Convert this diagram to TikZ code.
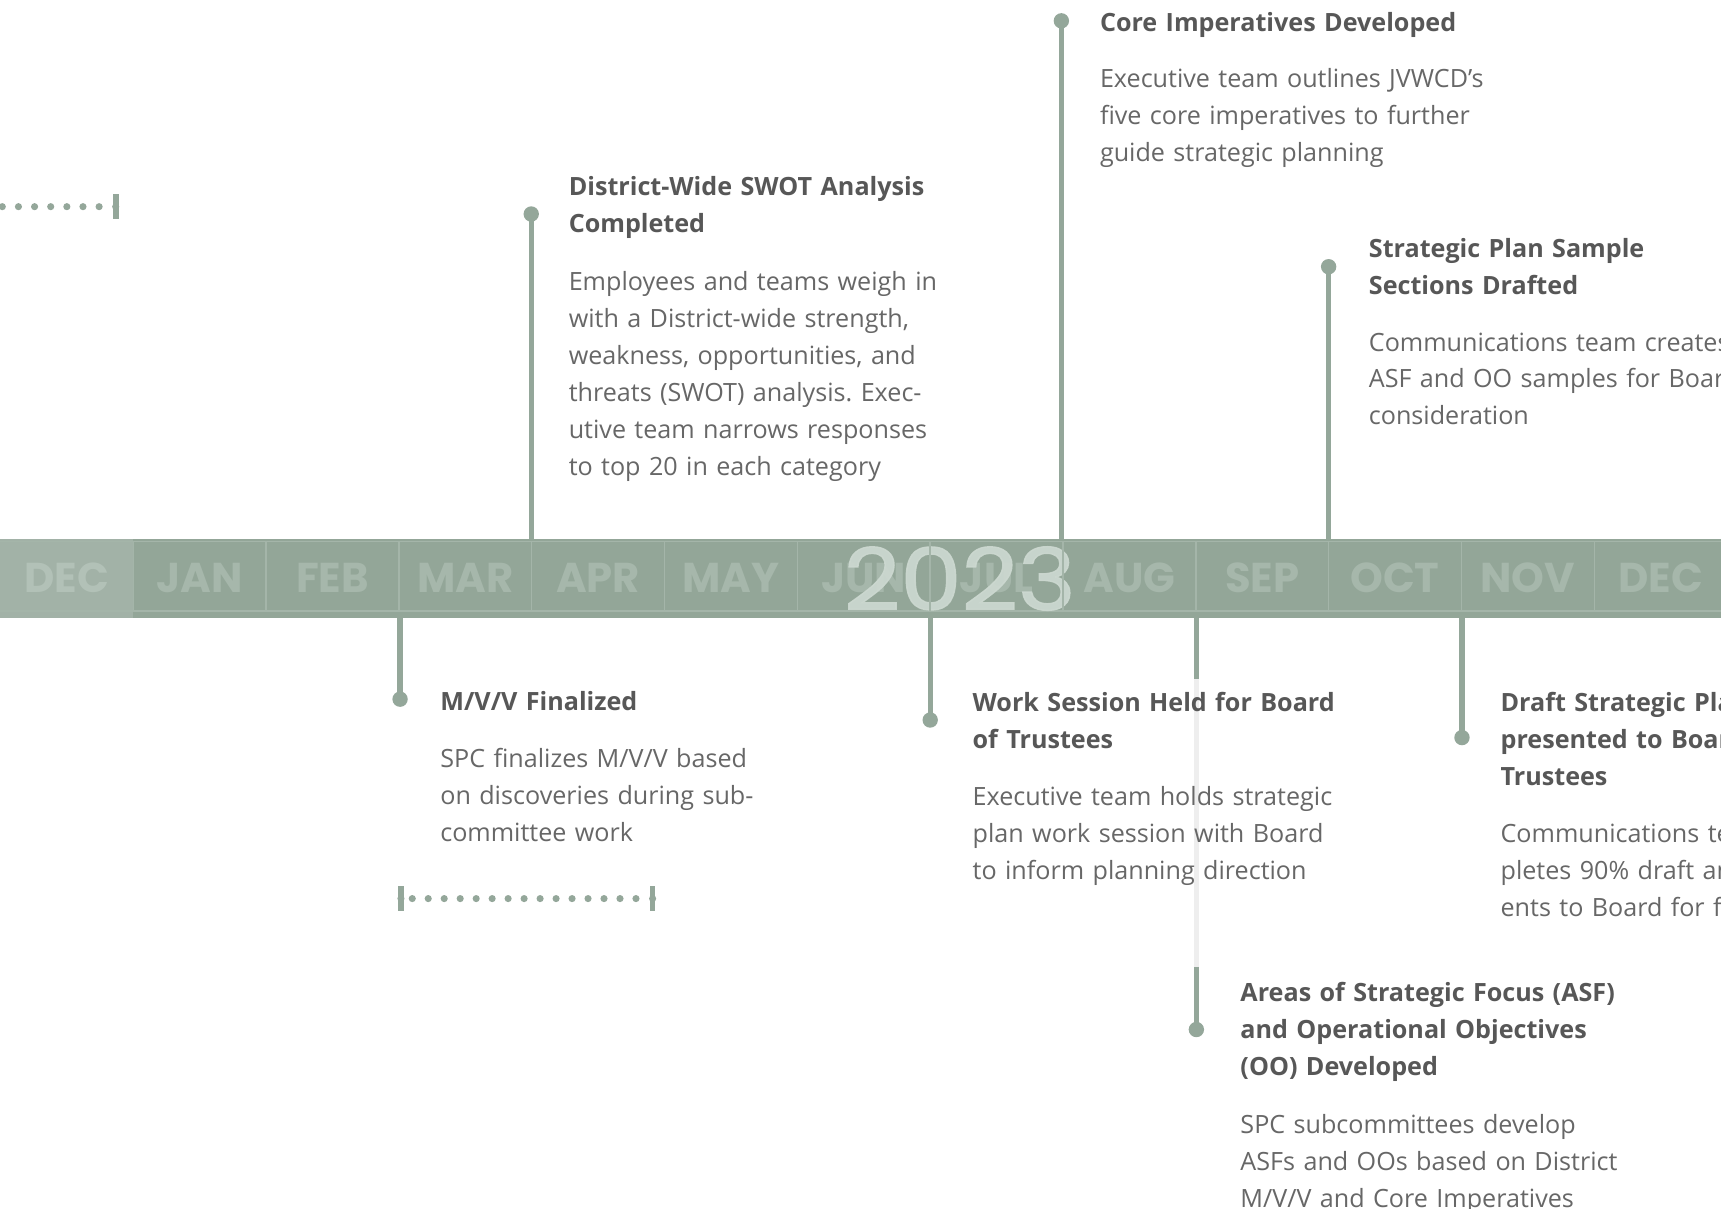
\documentclass[tikz,border=0pt]{standalone}
\usepackage{fontspec}
\usepackage{graphicx}
\setmainfont{Open Sans}
\newfontfamily\monthfont{Poppins}
\newfontfamily\yearfont{Poppins}[FakeBold=1.6]
\definecolor{bandc}{HTML}{93A698}
\definecolor{deccell}{HTML}{A2B2A7}
\definecolor{bandline}{HTML}{A4B5A9}
\definecolor{monthc}{HTML}{A6B7AB}
\definecolor{decmonthc}{HTML}{B2C1B7}
\definecolor{yearc}{HTML}{CCD8D0}
\definecolor{linec}{HTML}{94A79A}
\definecolor{fadec}{HTML}{EEEEEE}
\definecolor{titlec}{HTML}{575757}
\definecolor{bodyc}{HTML}{676767}
\tikzset{
  monthlbl/.style={font=\monthfont\bfseries\fontsize{38}{40}\selectfont, text=monthc, anchor=base, inner sep=0pt},
  yearlbl/.style={font=\yearfont\fontsize{85}{90}\selectfont, text=yearc, text opacity=0.93, anchor=base, inner sep=0pt},
  sepline/.style={draw=bandline, line width=1.3pt},
  conn/.style={draw=linec, line width=4.8pt},
  fadeconn/.style={draw=fadec, line width=4.8pt},
  evdot/.style={circle, fill=linec, minimum size=14pt, inner sep=0pt},
  ttl/.style={font=\fontsize{22.9}{33.7}\selectfont\bfseries, text=titlec, anchor=base west, inner sep=0pt, text width=700pt, align=left},
  bdy/.style={font=\fontsize{22.9}{33.7}\selectfont, text=bodyc, anchor=base west, inner sep=0pt, text width=700pt, align=left},
  smalldot/.style={circle, fill=linec, minimum size=6.5pt, inner sep=0pt},
  endbar/.style={rectangle, fill=linec, minimum width=5.2pt, minimum height=22.6pt, inner sep=0pt}
}
\frenchspacing
\begin{document}
\begin{tikzpicture}[x=1pt,y=-1pt]
\useasboundingbox (0,0) rectangle (1568,1101.5);
\fill[white] (0,0) rectangle (1568,1101.5);

% band
\fill[bandc] (0,491) rectangle (1568,563);
\fill[deccell] (0,491) rectangle (121.5,563);
\draw[sepline] (0,493.2) -- (1568,493.2);
\draw[sepline] (0,556.5) -- (1568,556.5);

% month labels
\foreach \m [count=\i from 0] in {DEC,JAN,FEB,MAR,APR,MAY,JUN,JUL,AUG,SEP,OCT,NOV,DEC}{
  \ifnum\i=0
    \node[monthlbl, text=decmonthc] (m\i) at (61+121*\i,540) {\m};
  \else
    \node[monthlbl] (m\i) at (61+121*\i,540) {\m};
  \fi
}
% year
\node[yearlbl] (yr) at (874.5,555.7) {\scalebox{1.05}[0.92]{2023}};
% separators
\foreach \k in {0,...,11}{
  \draw[sepline] (121.5+121*\k,493.2) -- (121.5+121*\k,556.5);
}

% connectors and dots
\node[evdot] (dA) at (967,19) {};
\node[evdot] (dB) at (484,195) {};
\node[evdot] (dC) at (1210.5,243) {};
\node[evdot] (dD) at (364.5,637) {};
\node[evdot] (dE) at (847.5,656) {};
\node[evdot] (dF) at (1332,672) {};
\node[evdot] (dG) at (1090,938) {};
\coordinate (bA) at (967,491);
\coordinate (bB) at (484,491);
\coordinate (bC) at (1210.5,491);
\coordinate (bD) at (364.5,563);
\coordinate (bE) at (847.5,563);
\coordinate (bF) at (1332,563);
\coordinate (bG) at (1090,563);
\coordinate (g1) at (1090,618.6);
\coordinate (g2) at (1090,881);
\draw[conn] (bA) -- (dA.center);
\draw[conn] (bB) -- (dB.center);
\draw[conn] (bC) -- (dC.center);
\draw[conn] (bD) -- (dD.center);
\draw[conn] (bE) -- (dE.center);
\draw[conn] (bF) -- (dF.center);
\draw[conn] (bG) -- (g1);
\draw[fadeconn] (g1) -- (g2);
\draw[conn] (g2) -- (dG.center);

% dotted ranges
\foreach \j in {0,...,6}{
  \node[smalldot] (ta\j) at (2.1+14.7*\j,188.3) {};
}
\node[endbar] (tbar) at (105.4,188.3) {};
\node[smalldot] (tbard) at (105.4,188.3) {};

\node[endbar] (lbar) at (365.3,818.7) {};
\node[endbar] (rbar) at (594.6,818.7) {};
\node[smalldot] (lbard) at (365.3,818.7) {};
\node[smalldot] (rbard) at (594.6,818.7) {};
\foreach \j in {0,...,14}{
  \node[smalldot] (bd\j) at (375.6+14.56*\j,818.7) {};
}

% texts
\node[ttl] (tA) at (1002,28.3) {Core Imperatives Developed};
\node[bdy] (xA) at (1002,79.3) {Executive team outlines JVWCD’s\\five core imperatives to further\\guide strategic planning};

\node[ttl] (tB) at (518,178.3) {District-Wide SWOT Analysis\\Completed};
\node[bdy] (xB) at (518,264.3) {Employees and teams weigh in\\with a District-wide strength,\\weakness, opportunities, and\\threats (SWOT) analysis. Exec-\\utive team narrows responses\\to top 20 in each category};

\node[ttl] (tC) at (1247,234.3) {Strategic Plan Sample\\Sections Drafted};
\node[bdy] (xC) at (1247,319.8) {Communications team creates\\ASF and OO samples for Board\\consideration};

\node[ttl] (tD) at (401,647.3) {M/V/V Finalized};
\node[bdy] (xD) at (401,699.3) {SPC finalizes M/V/V based\\on discoveries during sub-\\committee work};

\node[ttl] (tE) at (886,648.3) {Work Session Held for Board\\of Trustees};
\node[bdy] (xE) at (886,733.5) {Executive team holds strategic\\plan work session with Board\\to inform planning direction};

\node[ttl] (tF) at (1367,648.3) {Draft Strategic Plan\\presented to Board of\\Trustees};
\node[bdy] (xF) at (1367,767.7) {Communications team com-\\pletes 90\% draft and pres-\\ents to Board for feedback};

\node[ttl] (tG) at (1130,912.3) {Areas of Strategic Focus (ASF)\\and Operational Objectives\\(OO) Developed};
\node[bdy] (xG) at (1130,1032.3) {SPC subcommittees develop\\ASFs and OOs based on District\\M/V/V and Core Imperatives};
\end{tikzpicture}
\end{document}
